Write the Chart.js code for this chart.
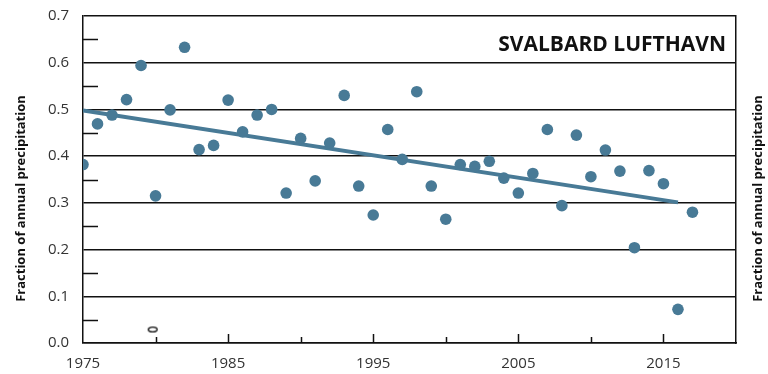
<!DOCTYPE html>
<html>
<head>
<meta charset="utf-8">
<script src="https://cdn.jsdelivr.net/npm/chart.js"></script>
<style>
    body { margin: 0; background: #fff; }
    #wrap { width: 768px; height: 374px; overflow: hidden; }
    /* canvas sits 7px higher so the plot top lands at y=15, the top of the 0.7 label is cut like the original */
    #chart { display: block; margin-top: -7px; clip-path: inset(17px 0 0 0); }
</style>
</head>
<body>
<div id="wrap"><canvas id="chart" width="768" height="381"></canvas></div>
<script>
    // yearly values
    var years = [1975, 1976, 1977, 1978, 1979, 1980, 1981, 1982, 1983, 1984,
        1985, 1986, 1987, 1988, 1989, 1990, 1991, 1992, 1993, 1994,
        1995, 1996, 1997, 1998, 1999, 2000, 2001, 2002, 2003, 2004,
        2005, 2006, 2007, 2008, 2009, 2010, 2011, 2012, 2013, 2014,
        2015, 2016, 2017];
    var fractions = [0.382, 0.469, 0.488, 0.521, 0.594, 0.315, 0.499, 0.633, 0.414, 0.423,
        0.520, 0.452, 0.488, 0.500, 0.321, 0.438, 0.347, 0.428, 0.530, 0.336,
        0.274, 0.457, 0.393, 0.538, 0.336, 0.265, 0.382, 0.378, 0.389, 0.353,
        0.321, 0.363, 0.457, 0.294, 0.445, 0.356, 0.413, 0.368, 0.204, 0.369,
        0.341, 0.072, 0.280];
    var trendYears = [1975, 2016];
    var trendValues = [0.498, 0.301];
    var markYears = [1979.8];
    var markValues = [0.029];

    var xLabels = ["1975", "1985", "1995", "2005", "2015"];
    var yLabels = ["0.0", "0.1", "0.2", "0.3", "0.4", "0.5", "0.6", "0.7"];
    var stationName = "SVALBARD LUFTHAVN";
    var axisTitle = "Fraction of annual precipitation";

    var blue = "#487a96";
    var ink = "#111";

    function pairs(xs, ys) {
        var out = [];
        for (var i = 0; i < xs.length; i++) out.push({ x: xs[i], y: ys[i] });
        return out;
    }
    function isMajor(v) {
        return Math.abs(v * 10 - Math.round(v * 10)) < 1e-6;
    }

    // small hollow ellipse used for the odd marker near 1980
    var ring = document.createElement("canvas");
    ring.width = 12; ring.height = 8;
    var rc = ring.getContext("2d");
    rc.fillStyle = "#fff";
    rc.strokeStyle = ink;
    rc.lineWidth = 1.4;
    rc.beginPath();
    rc.ellipse(6, 4, 4.4, 2.4, 0, 0, Math.PI * 2);
    rc.fill();
    rc.stroke();

    var extras = {
        id: "extras",
        afterDatasetsDraw: function (chart) {
            var ctx = chart.ctx, area = chart.chartArea;
            var xs = chart.scales.x, ys = chart.scales.y;
            var midY = (area.top + area.bottom) / 2;
            ctx.save();
            ctx.strokeStyle = ink;
            ctx.lineWidth = 1.5;
            ctx.beginPath();
            ys.ticks.forEach(function (t) {
                if (isMajor(t.value)) return;
                var py = Math.round(ys.getPixelForValue(t.value)) + 0.5;
                ctx.moveTo(area.left, py);
                ctx.lineTo(area.left + 15, py);
            });
            xs.ticks.forEach(function (t) {
                if (t.value <= xs.min || t.value >= xs.max) return;
                var px = Math.round(xs.getPixelForValue(t.value)) + 0.5;
                var len = (t.value - 1975) % 10 === 0 ? 9 : 6;
                ctx.moveTo(px, area.bottom);
                ctx.lineTo(px, area.bottom - len);
            });
            ctx.stroke();

            ctx.fillStyle = ink;
            ctx.font = "bold 21px 'Open Sans'";
            ctx.textAlign = "right";
            ctx.textBaseline = "alphabetic";
            ctx.fillText(stationName, 726, area.top + 35);

            ctx.font = "bold 13px 'Open Sans'";
            ctx.textAlign = "center";
            ctx.textBaseline = "middle";
            [21, 758].forEach(function (cx) {
                ctx.save();
                ctx.translate(cx, midY + 19);
                ctx.rotate(-Math.PI / 2);
                ctx.fillText(axisTitle, 0, 0);
                ctx.restore();
            });
            ctx.restore();
        }
    };

    Chart.defaults.font.family = "'Open Sans', sans-serif";
    Chart.defaults.color = "#333";

    var ctx = document.getElementById("chart").getContext("2d");
    var chart = new Chart(ctx, {
        type: "scatter",
        data: {
            datasets: [
                {
                    data: pairs(years, fractions),
                    backgroundColor: blue,
                    borderColor: blue,
                    pointRadius: 5.8,
                    borderWidth: 0,
                    order: 0
                },
                {
                    type: "line",
                    data: pairs(trendYears, trendValues),
                    borderColor: blue,
                    borderWidth: 4,
                    pointRadius: 0,
                    fill: false,
                    order: 1
                },
                {
                    data: pairs(markYears, markValues),
                    pointStyle: ring,
                    order: 2
                }
            ]
        },
        options: {
            responsive: false,
            animation: false,
            layout: { padding: { top: 8, right: 32, left: 0, bottom: 0 } },
            plugins: { legend: { display: false }, tooltip: { enabled: false } },
            scales: {
                x: {
                    type: "linear",
                    position: "bottom",
                    min: 1975,
                    max: 2020,
                    grid: { display: false, drawTicks: false },
                    border: { color: ink, width: 1.5 },
                    ticks: {
                        stepSize: 5,
                        autoSkip: false,
                        maxRotation: 0,
                        padding: 12,
                        font: { size: 15 },
                        callback: function (v) {
                            var s = String(v);
                            return xLabels.indexOf(s) >= 0 ? s : "";
                        }
                    },
                    afterFit: function (s) { s.height = 31; }
                },
                y: {
                    position: "left",
                    min: 0,
                    max: 0.7,
                    grid: {
                        drawTicks: false,
                        lineWidth: 1.5,
                        color: function (c) {
                            return isMajor(c.tick.value) ? ink : "rgba(0,0,0,0)";
                        }
                    },
                    border: { color: ink, width: 1.5 },
                    ticks: {
                        stepSize: 0.05,
                        padding: 14,
                        font: { size: 15 },
                        callback: function (v) {
                            var s = v.toFixed(1);
                            return isMajor(v) && yLabels.indexOf(s) >= 0 ? s : "";
                        }
                    },
                    afterFit: function (s) { s.width = 83; }
                },
                y2: {
                    position: "right",
                    min: 0,
                    max: 0.7,
                    grid: { display: false },
                    border: { color: ink, width: 1.5 },
                    ticks: { display: false },
                    afterFit: function (s) { s.width = 0; }
                }
            }
        },
        plugins: [extras]
    });
</script>
</body>
</html>
